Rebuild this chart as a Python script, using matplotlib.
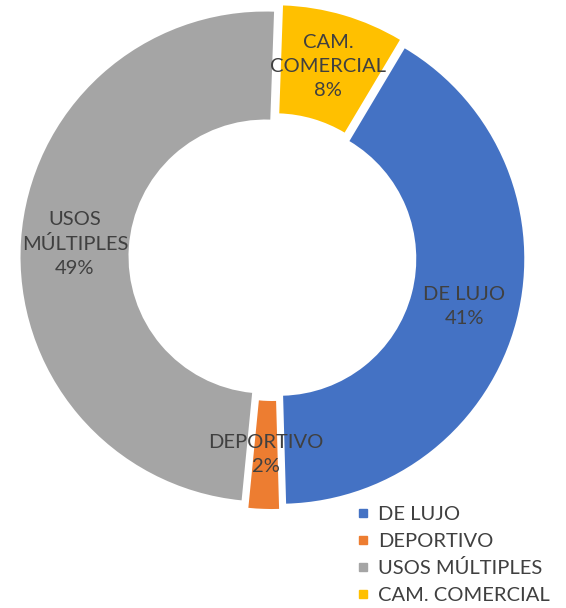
import matplotlib
matplotlib.use("Agg")
import matplotlib.pyplot as plt
from matplotlib.lines import Line2D

categories = ["DE LUJO", "DEPORTIVO", "USOS MÚLTIPLES", "CAM. COMERCIAL"]
label_texts = ["DE LUJO", "DEPORTIVO", "USOS\nMÚLTIPLES", "CAM.\nCOMERCIAL"]
values = [41, 2, 49, 8]
colors = ["#4472C4", "#ED7D31", "#A5A5A5", "#FFC000"]

W, H = 566, 608
fig = plt.figure(figsize=(W / 100, H / 100), dpi=100)
ax = fig.add_axes([0, 0, 1, 1])

R = 245
ring = 108
cx, cy = 272.5, -257
explode_px = 7
start = 90 - 360 * values[-1] / sum(values) - 2

labels = [f"{t}\n{v}%" for t, v in zip(label_texts, values)]
wedges, texts = ax.pie(values, colors=colors, radius=R, center=(cx, cy),
                       explode=[explode_px] * len(values),
                       startangle=start, counterclock=False,
                       wedgeprops=dict(width=ring, linewidth=0),
                       labels=labels, labeldistance=0.78,
                       textprops=dict(fontsize=14.5, color="#404040", family="Lato",
                                      linespacing=1.5),
                       frame=False)
for t in texts:
    t.set_ha("center")
    t.set_va("center")

ax.set_xlim(0, W)
ax.set_ylim(-H, 0)
ax.set_aspect("equal")
ax.axis("off")

handles = [Line2D([], [], marker="s", linestyle="", markersize=6, color=c) for c in colors]
fig.legend(handles, categories, loc="upper left", bbox_to_anchor=(355 / W, 1 - 506 / H),
           frameon=False, borderpad=0, borderaxespad=0,
           handlelength=0.8, handletextpad=0.35, labelspacing=0.47,
           prop=dict(family="Lato", size=14.5), labelcolor="#404040")

fig.savefig("out.png", dpi=100)
